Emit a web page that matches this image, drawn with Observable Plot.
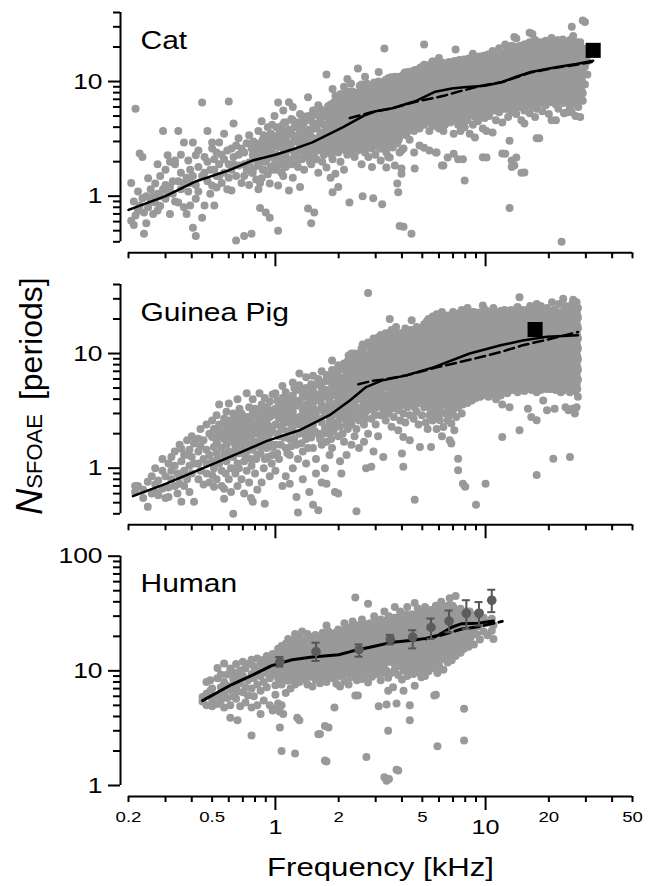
<!DOCTYPE html>
<html><head><meta charset="utf-8">
<script src="https://cdn.jsdelivr.net/npm/d3@7"></script>
<script src="https://cdn.jsdelivr.net/npm/@observablehq/plot@0.6"></script>
<style>
body{margin:0;background:#fff;}
#wrap{position:relative;width:650px;height:886px;overflow:hidden;font-family:"Liberation Sans",Arial,Helvetica,sans-serif;}
#wrap svg{position:absolute;left:0;}
</style></head><body><div id="wrap">
<svg id="ylab" width="70" height="886" style="top:0">
 <text transform="translate(42,396) rotate(-90)" text-anchor="middle" font-family="Liberation Sans, Arial, sans-serif" fill="black"><tspan font-style="italic" font-size="36">N</tspan><tspan font-size="22">SFOAE</tspan><tspan font-size="32" dx="14">[periods]</tspan></text>
</svg>
</div>
<script>
// ---------- tick values ----------
const xMinorTicks = [0.3,0.4,0.6,0.7,0.8,0.9,3,4,6,7,8,9,30,40];
const xSmallTicks = [0.2,0.5,2,5,20,50];
const xMajorTicks = [1,10];
const yMinorCatGp = [0.4,0.5,0.6,0.7,0.8,0.9,2,3,4,5,6,7,8,9,20,30,40];
const yMajorCatGp = [1,10];
const yMinorHuman = [2,3,4,5,6,7,8,9,20,30,40,50,60,70,80,90];
const yMajorHuman = [1,10,100];

// ---------- Cat: columns [f (kHz), N values...] ----------
const catCols = [
[0.206,1.3,0.61],[0.212,0.56,0.9],[0.216,5.8,0.68],[0.222,0.75,1.1],[0.226,2.36,0.83],[0.233,2.2,0.96],
[0.237,0.47,0.72],[0.243,0.58,1.0],[0.248,1.43,0.8],[0.255,0.9,1.15],[0.262,1.0,0.7],[0.268,1.29,0.88],
[0.275,0.75,1.05,1.9],[0.283,1.0,0.82,1.5],[0.292,3.7,1.15],[0.3,0.95,1.25,1.7],[0.307,2.27,1.05],
[0.315,1.2,0.7,2.0],[0.325,1.05,1.35],[0.333,1.9,2.05,0.9],[0.345,3.7,1.35,0.88],[0.355,1.6,1.15,2.3],
[0.367,2.94,0.8,1.3],[0.378,0.7,1.45],[0.385,2.05,1.1],[0.393,0.83,1.7,1.3],[0.405,2.94,0.53,1.5],
[0.418,2.27,0.95,0.45,1.25],[0.43,1.8,1.1,2.5],[0.448,6.55,0.65,1.5],[0.46,0.83,1.6,2.2],[0.475,3.7,2.0,1.35],
[0.49,1.05,1.7],[0.5,2.94,1.24,2.6],[0.512,0.83,1.7,2.1],[0.525,2.4,1.19,1.5],[0.54,2.94,1.5,1.9],
[0.555,1.3,2.3],[0.57,3.5,2.1,1.6],[0.59,1.15,2.5],[0.6,6.7,1.45,1.9],[0.618,1.12,2.6,1.7],
[0.632,4.3,1.9,2.2],[0.65,2.77,0.41,1.5],[0.668,1.85,3.2,2.3],[0.69,1.3,2.6],[0.71,2.4,0.45,1.5,1.9],
[0.73,2.9,1.7],[0.75,1.97,3.4,1.25],[0.77,0.47,2.6,1.6],[0.785,1.74,2.2,3.0],[0.81,1.4,2.5],
[0.83,1.85,3.7,2.2,1.15],[0.845,0.79,1.3,2.9],[0.86,1.43,4.5,2.8,2.0],[0.88,1.7,3.4],[0.9,0.72,2.0,3.3,2.5],
[0.92,1.55,2.8,4.0],[0.94,0.65,1.29,3.0,2.2],[0.965,2.3,4.2,1.7,3.4],[0.99,1.9,2.7,5.0],
[1.03,0.5,1.24,2.7,6.55,3.4,1.9],[1.07,2.2,3.0,4.1,1.6],[1.09,5.6,3.5,2.0,1.5,2.6],[1.12,4.4,1.8,3.2,2.4],
[1.16,6.6,1.12,2.9,3.8,2.1],[1.21,6.0,1.45,2.5,3.4,4.6],[1.26,1.9,3.0,4.0,2.3],[1.31,1.2,2.7,3.6,5.2,2.1],
[1.37,2.4,3.1,4.4,1.7],[1.43,7.3,0.78,2.9,3.8,2.2,5.0],[1.48,0.58,3.3,2.5,4.6,1.9],[1.53,0.72,2.8,3.9,5.6,2.2],
[1.6,3.1,4.3,2.5,6.2,1.6],[1.67,2.7,3.6,4.9,2.0],[1.75,11.5,1.78,3.0,4.0,5.4,2.4],[1.83,1.45,3.4,4.5,6.3,2.6],
[1.87,1.08,8.6,3.0,5.0,2.1],[1.93,1.57,3.7,4.6,6.0,2.8,7.5],[1.99,1.2,2.4,3.2,4.2,5.3],
[2.04,2.6,3.3,4.1,5.0,6.2,7.8,2.0],[2.12,2.9,3.7,4.6,5.6,7.0,9.0,1.7],[2.2,2.3,3.1,3.9,4.8,6.0,7.5,10.5],
[2.25,0.88,2.7,4.3,5.3,8.2],[2.29,3.4,4.0,5.1,6.5,2.5,9.6],[2.38,2.8,3.6,4.5,5.7,7.1,2.2],
[2.47,13.0,3.2,4.2,5.2,6.4,8.0,2.5],[2.57,2.7,3.5,4.6,5.9,7.4,9.4,1.9],[2.6,1.0,3.0,4.0,5.4,6.8],
[2.67,2.4,3.3,4.3,5.6,7.0,8.6,11.0],[2.77,2.9,3.8,4.9,6.1,7.7,2.2],[2.88,2.6,3.4,4.5,5.8,7.2,9.0,1.8],
[2.92,0.96,3.1,4.1,5.3,6.6,8.3],[2.99,2.3,3.6,4.8,6.0,7.6,2.9],[3.1,12.1,2.8,3.9,5.1,6.4,8.0,10.0],
[3.17,2.05,3.3,4.4,5.6,7.0,2.6],[3.22,0.85,3.0,4.0,5.2,6.6,8.5],[3.3,19.4,2.7,3.7,4.7,6.0,7.5,9.4],
[3.37,1.78,2.4,3.4,4.5,5.7,7.1],[3.44,10.7,3.1,4.1,5.3,6.7,8.4,2.2],[3.5,2.17,2.9,3.8,4.9,6.2,7.8],
[3.62,2.66,3.5,4.6,5.8,7.3,9.1],[3.7,1.85,3.2,4.3,5.5,6.9,8.7,11.0],[3.8,1.29,2.9,4.0,5.1,6.5,8.2],
[3.84,1.08,3.6,4.7,6.0,7.6,9.6],[3.9,0.55,3.3,4.4,5.6,7.1,2.4],[3.98,1.57,1.74,2.5,3.9,5.2,6.6,8.4,10.4],
[4.07,0.54,2.6,3.8,4.9,6.0,7.4,9.2,11.5],[4.2,3.4,4.4,5.5,6.8,8.4,10.4],[4.28,12.1,4.0,5.1,6.3,7.8,9.6],
[4.35,3.1,4.7,5.9,7.2,8.9,11],[4.44,0.47,4.2,5.3,6.6,8.1,10],[4.57,2.4,3.7,4.9,6.1,7.5,9.3,12.5],
[4.6,1.74],[4.7,4.4,5.6,6.9,8.6,10.6],[4.85,2.77,3.9,5.1,6.4,7.9,9.8,13],[5.0,4.6,5.8,7.2,8.9,11.2],
[5.1,21,2.65,4.2,5.3,6.6,8.2,10.2,14],[5.25,4.8,6.0,7.5,9.4,11.8],[5.4,2.5,3.7,4.4,5.6,7.0,8.7,10.8],
[5.6,4.1,5.2,6.4,8.0,10,12.5,15],[5.8,2.4,4.7,5.9,7.3,9.1,11.4],[5.85,2.4],[6.0,3.9,5.0,6.2,7.8,9.7,12,16],
[6.2,1.85,4.5,5.6,7.0,8.7,10.9],[6.3,1.85,3.7],[6.4,4.2,5.3,6.6,8.3,10.3,13],[6.6,2.17,4.8,6.0,7.5,9.4,11.7,14.5],
[6.8,4.4,5.5,6.9,8.6,10.8],[7.05,2.35,3.5,5.0,6.3,7.9,9.9,12.4],[7.2,4.6,5.8,7.2,9.0,11.2,19],
[7.4,2.1,4.2,5.3,6.6,8.3,10.4,13.5],[7.6,3.7,4.9,6.1,7.6,9.5,11.9],[7.8,2.1,4.4,5.6,7.0,8.7,10.9,15],
[7.95,1.37,4.0,5.1,6.4,8.0,10],[8.2,4.6,5.8,7.3,9.1,11.4,14],[8.4,3.5,5.3,6.7,8.4,10.5,13],
[8.7,17.5,4.2,6.1,7.7,9.6,12],[8.9,3.25,4.9,5.6,7.0,8.8,11,14],[9.2,4.5,6.4,8.1,10.2,12.7],
[9.5,5.2,5.9,7.4,9.3,11.6,15],[9.7,2.19,3.9,6.8,8.5,10.6,13.3],[9.9,4.8,6.2,7.8,9.8,12.2,16],
[10.1,3.7,2.17,5.5,7.1,8.9,11.1,14],[10.4,5.0,6.5,8.2,10.3,12.9,16.2],[10.8,3.6,5.8,7.4,9.3,11.7,14.7,18.5],
[11.2,4.6,6.8,8.6,10.8,13.6,17],[11.6,5.4,6.2,7.8,9.8,12.3,15.5,19.5],[12.0,2.36,4.4,7.2,9.1,11.4,14.3,18],
[12.4,2.35,5.8,6.6,8.3,10.4,13.1,16.5,21],[12.8,4.9,7.6,9.6,12,15.1,19],[13.0,3.05,0.79,6.1,8.8,11.1,14,17.6],
[13.3,2.05,1.8,5.4,7.2,10.2,12.8,16.2,20.5],[13.7,24.5,1.85,6.5,8.1,9.4,11.8,14.8,18.6],
[14.0,2.17,5.2,7.0,8.7,10.9,13.7,17.2,23.7],[14.5,6.0,7.6,9.9,12.5,15.7,19.8],[14.8,1.6,4.6,6.8,9.1,11.5,14.5,18.2],
[15.3,4.3,1.61,5.6,8.3,10.5,13.2,16.6,21],[15.8,6.3,7.5,9.6,12.1,15.2,19.2],[16.2,26.7,5.3,6.9,8.8,11.1,14,17.6,22],
[16.7,26,6.0,8.1,10.2,12.8,16.1,20.3],[17.2,4.9,7.4,9.3,11.7,14.8,18.6,23],[17.5,3.2,5.8],
[18.0,3.2,6.6,8.5,10.7,13.5,17,21.5],[18.6,5.5,7.8,9.8,12.4,15.6,19.7],[19.3,6.2,7.1,9.0,11.3,14.3,18,22.7],
[20.0,5.2,8.2,10.4,13.1,16.5,20.8],[20.6,4.6,6.8,7.5,9.5,12,15.1,19,24],[21.6,4.6,6.3,8.7,11,13.9,17.5,22],
[22.2,22.8,5.8,8.0,10.1,12.7,16,20.2],[23,0.4,7.1,9.2,11.6,14.7,18.5],[23.6,5.3,6.5,8.4,10.6,13.4,16.9,21.3],
[24.4,5.4,7.7,9.7,12.3,15.5,19.5],[25.2,6.0,7.0,8.9,11.2,14.2,17.9,23],[25.7,30,5.4,8.1],
[26.1,25,6.4,10.3,13,16.4,20.6],[26.8,5.0,7.4,9.4,11.9,15,19],[27.6,13,9.2,7.9,6.0,11,17],
[28.2,4.9,6.8,8.6,10.8,14.5,22],[29.0,34,6.8,7.9,12,16,19.5],[29.7,33,9.4,13.5,17.5],[30.5,11.5,15,18]
];
// denser core of the cat cloud (0.8–30 kHz)
const catCore = [
[0.78,1.6,2.3],[0.82,2.0,2.7],[0.87,1.7,2.4,3.1],[0.91,2.1,2.9],[0.95,1.8,2.5,3.5],[0.98,2.2,3.0],
[1.01,1.7,2.3,3.1,4.0],[1.05,2.0,2.7,3.6],[1.1,1.8,2.4,3.3,4.4],[1.14,2.1,2.8,3.7],[1.19,1.9,2.6,3.5,4.7],
[1.23,2.2,3.0,4.0],[1.28,1.8,2.5,3.3,4.4],[1.34,2.1,2.9,3.9,5.0],[1.4,2.6,3.5,4.6],[1.46,2.0,2.8,3.7,4.9],
[1.51,2.4,3.2,4.3,5.6],[1.57,2.1,2.9,3.9,5.1],[1.63,2.6,3.4,4.5,5.8],[1.7,2.3,3.1,4.2,5.5],[1.78,2.7,3.6,4.8,6.1],
[1.85,2.3,3.2,4.3,5.7],[1.9,2.8,3.8,5.1,6.6],[1.96,2.5,3.4,4.6,6.0,7.0],[2.0,2.9,3.9,5.3,6.7],
[2.08,2.9,3.7,4.6,5.6,6.8],[2.16,2.5,3.3,4.2,5.2,6.4,8.0],[2.24,3.0,3.8,4.7,5.9,7.3],[2.33,2.6,3.2,4.2,5.3,6.6,8.2],
[2.42,3.0,3.9,4.9,6.2,7.8],[2.52,2.8,3.7,4.7,5.9,7.3,9.2],[2.62,3.2,4.2,5.3,6.6,8.2],[2.72,2.7,3.6,4.7,6.0,7.5,9.6],
[2.82,3.2,4.2,5.4,6.8,8.5],[2.95,2.8,3.7,4.9,6.2,7.8,9.8],[3.05,3.2,4.3,5.5,6.9,8.8],[3.14,2.6,3.6,4.8,6.1,7.7,9.6],
[3.26,3.4,4.4,5.6,7.1,9.0],[3.34,3.0,4.0,5.2,6.5,8.2,10.3],[3.41,2.7,3.6,4.8,6.1,7.7,9.8],[3.55,3.2,4.2,5.4,6.8,8.6,10.9],
[3.66,2.9,3.8,5.0,6.3,8.0,10.1],[3.75,3.5,4.6,5.9,7.5,9.5],[3.86,3.1,4.1,5.3,6.8,8.6,11],[3.94,3.7,4.8,6.2,7.9,10],
[4.02,4.1,5.4,6.7,8.4,10.5],[4.13,3.6,4.8,6.1,7.6,9.5,12],[4.24,4.3,5.5,7.0,8.8,11.1],[4.4,3.8,4.9,6.2,7.7,9.6,12.2],
[4.52,4.5,5.7,7.1,8.9,11.1],[4.64,4.0,5.1,6.4,8.0,10.0,12.6],[4.78,4.6,5.8,7.3,9.1,11.5],[4.92,4.2,5.4,6.8,8.5,10.7,13.3],
[5.05,4.8,6.1,7.7,9.6,12.1],[5.18,4.4,5.6,7.0,8.8,11.1,13.8],[5.32,4.9,6.3,7.9,9.9,12.4],[5.5,4.5,5.8,7.3,9.1,11.4,14.3],
[5.7,5.0,6.4,8.0,10.1,12.6],[5.9,4.5,5.8,7.3,9.2,11.5,14.4],[6.1,5.1,6.5,8.2,10.3,12.9],[6.25,4.6,5.9,7.4,9.3,11.7,14.6],
[6.5,5.2,6.6,8.3,10.4,13],[6.7,4.7,6.0,7.5,9.4,11.8,14.8],[6.92,5.3,6.7,8.4,10.5,13.2],[7.12,4.8,6.1,7.7,9.6,12.1,15.1],
[7.3,5.4,6.8,8.5,10.7,13.4],[7.5,4.9,6.2,7.8,9.8,12.3,15.4],[7.7,5.5,6.9,8.7,10.9,13.6],[7.88,5.0,6.3,7.9,9.9,12.5,15.6],
[8.05,5.6,7.1,8.9,11.1,13.9],[8.3,5.1,6.4,8.0,10.1,12.7,15.9],[8.55,5.6,7.1,8.9,11.2,14.1],[8.8,5.2,6.5,8.2,10.3,12.9,16.2],
[9.05,5.7,7.2,9.1,11.4,14.3],[9.35,5.3,6.7,8.4,10.5,13.2,16.5],[9.6,5.8,7.3,9.2,11.5,14.5],[9.8,5.4,6.8,8.5,10.7,13.4,16.8],
[10.0,6.0,7.5,9.4,11.8,14.8],[10.25,5.5,6.9,8.7,10.9,13.7,17.2],[10.6,6.1,7.7,9.6,12.1,15.2],[11.0,5.6,7.0,8.8,11.1,13.9,17.5],
[11.4,6.2,7.8,9.8,12.3,15.4],[11.8,5.7,7.2,9.0,11.3,14.2,17.8],[12.2,6.3,7.9,9.9,12.5,15.7],[12.6,5.8,7.3,9.2,11.5,14.5,18.2],
[13.1,6.4,8.1,10.1,12.7,16],[13.5,5.9,7.4,9.3,11.7,14.7,18.5],[13.9,6.5,8.2,10.3,12.9,16.2,20],[14.3,6.0,7.6,9.5,11.9,15,18.8],
[14.7,6.6,8.3,10.5,13.1,16.5,20.5],[15.1,6.1,7.7,9.6,12.1,15.2,19.1],[15.5,6.7,8.5,10.6,13.3,16.8,21],[16.0,6.2,7.8,9.8,12.3,15.5,19.4],
[16.5,6.8,8.6,10.8,13.6,17.1,21.3],[16.9,6.3,7.9,10.0,12.5,15.7,19.8],[17.4,6.9,8.7,10.9,13.8,17.3,21.7],[17.9,6.4,8.1,10.1,12.7,16,20.1],
[18.3,7.0,8.8,11.1,14,17.6,22],[18.9,6.5,8.2,10.3,12.9,16.2,20.4],[19.6,7.1,8.9,11.2,14.1,17.8,22.3],[20.3,6.6,8.3,10.4,13.1,16.5,20.7],
[20.9,7.2,9.0,11.4,14.3,18,22.6],[21.3,6.7,8.4,10.6,13.3,16.7,21],[22.0,7.3,9.2,11.5,14.5,18.2,22.9],[22.6,6.8,8.5,10.7,13.4,16.9,21.2],
[23.3,7.4,9.3,11.7,14.7,18.5,23.2],[24.0,6.9,8.6,10.8,13.6,17.1,21.5],[24.8,7.5,9.4,11.8,14.8,18.6],[25.5,7.0,8.7,11.0,13.8,17.3,21.7],
[26.4,7.6,9.5,12.0,15,18.9],[27.2,7.1,8.9,11.1,14,17.6,22],[28.0,7.7,9.7,12.2,15.3,19.2],[28.7,8.2,10.3,12.9,16.2]
];
const catSolid = [[0.2,0.76],[0.3,1.0],[0.42,1.35],[0.6,1.68],[0.78,2.05],[1.0,2.3],[1.2,2.55],[1.5,2.95],[2.1,4.0],[2.64,5.05],[3.0,5.5],[3.6,5.85],[4.7,6.8],[5.7,8.1],[6.9,8.7],[7.9,8.9],[9.9,9.2],[11.9,9.85],[14,11],[16.4,12.1],[21.6,13.3],[27,14.2],[32.5,15.2]];
const catDashed = [[2.26,4.8],[2.86,5.4],[3.6,5.85],[4.7,6.7],[5.7,7.2],[6.4,7.55],[7.5,8.2],[9.6,9.2],[12,9.9],[16.4,12],[21.6,13.2],[27,14],[32,14.8]];
const catSquare = [32.5, 18.7];

// ---------- Guinea pig ----------
const gpCols = [
[0.215,0.7,0.62],[0.222,0.7],[0.235,0.55,0.65],[0.247,0.46,0.76],[0.258,0.6,0.85],[0.268,0.72,0.62,1.0],
[0.277,0.78,0.58],[0.29,0.66,0.95,1.2],[0.3,0.85,0.55],[0.31,0.56,0.68,1.1],[0.32,1.25,0.8,0.95],
[0.332,0.7,1.05,1.4],[0.342,0.9,0.6],[0.35,0.73,0.85,1.6],[0.357,1.48,0.51,1.15],[0.368,0.95,1.3,0.7],
[0.38,1.31,1.75,0.8],[0.39,1.05,0.62,1.45],[0.4,0.9,1.9,1.25],[0.41,1.64,0.51,1.1],[0.43,1.81,1.1,0.8,1.4],
[0.44,0.95,1.55,2.2],[0.455,1.2,0.72,1.75],[0.47,1.45,2.4,0.9,1.1],[0.485,1.3,2.0,0.75],[0.5,1.87,0.87,1.15,2.6],
[0.51,1.53,0.69,1.0,2.2],[0.525,1.35,2.9,0.8,1.7],[0.54,1.1,1.9,2.4,3.6],[0.555,0.95,1.5,2.1,0.7],
[0.57,0.66,0.54,1.3,1.8,2.7],[0.585,1.15,1.6,2.2,3.1],[0.6,3.66,0.8,1.4,2.0,2.6],[0.615,1.0,1.7,2.3,0.62],
[0.63,0.4,2.45,1.25,1.9,3.0],[0.645,0.9,1.5,2.1,2.8],[0.66,4.0,1.1,1.7,2.4,0.7],[0.675,1.35,1.9,2.7,3.3],
[0.69,0.8,1.55,2.2,3.0],[0.71,1.15,1.75,2.5,0.6],[0.73,4.5,1.4,2.0,2.8,0.95],[0.75,0.75,1.6,2.3,3.4],
[0.765,1.2,1.85,2.6,0.55],[0.78,0.51,1.45,2.1,3.0,4.0],[0.8,0.9,1.7,2.4,3.3],[0.82,1.3,2.0,2.8,0.65],
[0.84,1.55,2.3,3.2,4.5],[0.86,0.75,1.9,2.6,3.6],[0.89,0.49,1.2,2.2,3.0,4.1],[0.91,1.5,1.75,2.5,3.4],
[0.94,0.85,2.0,2.8,3.8],[0.97,1.53,1.3,2.3,3.2,4.4],
[1.0,1.6,2.4,3.3,4.5,0.95],[1.04,1.9,2.7,3.7,1.2],[1.08,0.7,2.2,3.0,4.1,5.2],[1.12,1.5,2.5,3.4,4.6,0.85],
[1.17,0.73,1.8,2.8,3.8,1.3],[1.21,2.1,3.1,4.3,5.6,1.0],[1.26,0.56,1.6,2.4,3.5,4.8],[1.28,0.41,1.2],
[1.3,6.7,2.0,2.8,3.9,5.3],[1.35,1.4,2.3,3.2,4.4,0.8],[1.4,1.1,1.8,2.6,3.6,5.0,6.2],[1.45,2.1,3.0,4.1,0.62],
[1.51,0.48,1.5,2.4,3.4,4.7,6.4],[1.56,1.2,2.8,3.9,5.4,0.9],[1.6,0.43,2.0,3.2,4.4,6.0],[1.66,1.6,2.5,3.6,5.0,7.0,0.75],
[1.72,1.0,2.2,3.0,4.2,5.7],[1.75,0.73,1.7,3.4,4.8,6.5],[1.81,5.8,2.6,3.8,1.3,2.0],[1.86,8.7,1.5,3.1,4.3,5.2,7.2],
[1.92,0.62,2.4,3.5,4.9,6.6],[1.99,0.6,1.9,2.9,4.1,5.8,7.9],[2.03,1.15,2.3,3.3,4.6,6.2],[2.06,0.9,2.7,3.8,5.3,7.3],
[2.12,1.7,3.1,4.3,6.0,8.2],[2.18,2.4,3.6,5.0,6.8,1.3],[2.23,2.9,4.0,5.6,7.7,9.6],
[2.3,10,3.2,4.4,6.0,8.1,2.4,1.6],[2.38,10,3.6,4.9,6.7,2.8,1.9],[2.43,0.42,4.1,5.5,7.4,9.5,2.2],[2.5,3.0,4.5,6.1,8.3,1.5,2.6],
[2.57,3.4,5.0,6.8,9.2,11],[2.64,1.7,2.4,3.8,5.5,7.5,10.2],[2.7,1.0,3.1,4.3,6.1,8.3,11.8],[2.76,33.8,2.0,3.5,4.8,6.7,9.1,12.5],
[2.86,1.03,2.7,3.9,5.4,7.4,10.1],[2.93,1.4,3.2,4.4,6.0,8.2,11.2,13.5],[3.0,2.4,3.6,4.9,6.6,9.0,12.4],
[3.08,1.9,4.0,5.4,7.3,10,13.8],[3.17,2.9,4.5,6.0,8.1,11,14.5],[3.26,1.25,3.3,5.0,6.6,8.9,12.2],
[3.35,2.6,3.8,5.5,7.3,9.8,15],[3.44,3.0,4.3,6.1,8.1,10.9,13.5],[3.5,20,3.5,4.8,6.7,8.9,12],
[3.57,2.3,3.3,5.3,7.4,9.8,16],[3.66,2.8,4.0,5.9,8.1,10.8,14],[3.75,3.6,4.6,6.5,8.9,11.9,17],
[3.84,2.14,3.2,5.1,7.2,9.8,13.2],[3.93,2.6,4.2,5.7,7.9,10.8,15],[4.0,1.34,3.6,4.8,6.3,8.7,12],
[4.06,1.03,1.87,3.0,5.3,7.0,9.6,13.5],[4.15,2.5,4.0,5.9,7.7,10.6,16.5],[4.25,3.4,4.6,6.5,8.5,11.7,14],
[4.36,1.75,2.9,5.2,7.2,9.4,12.9],[4.45,3.8,4.4,5.8,7.9,10.4,15.5,19.5],[4.55,2.7,4.9,6.4,8.7,11.5,14.2],
[4.6,0.53,3.4],[4.7,3.1,4.2,5.5,7.1,9.6,12.7,17],[4.8,2.4,3.7,6.0,7.8,10.5,14],[4.87,1.53,4.6,5.1,6.6,8.6,11.6,16],
[4.98,2.9,3.9,5.6,7.3,9.5,12.8],[5.1,3.4,4.3,6.2,8.1,10.5,14.1,18],[5.2,2.5,4.8,6.8,8.9,11.6,15.6],
[5.3,2.2,3.5,5.3,7.5,9.8,12.8,17],[5.4,2.9,4.1,5.9,8.3,10.8,14.2,19],[5.5,1.53,3.2,4.6,6.5,9.1,11.9,15.7],
[5.6,2.6,3.7,5.2,7.2,10,13.1,17.3,21],[5.73,3.0,4.1,5.8,7.9,11,14.5,19],[5.85,2.2,3.4,4.6,6.4,8.7,12.1,16,22],
[5.97,2.8,3.8,5.1,7.0,9.6,13.3,17.6],[6.06,2.62,3.2,4.3,5.7,7.7,10.6,14.6,20],[6.2,1.9,3.6,4.8,6.3,8.5,11.7,16,23],
[6.3,2.29,4.1,5.4,7.0,9.4,12.9,17.6],[6.45,3.0,3.8,4.6,6.0,7.7,10.4,14.2,19.5],[6.6,2.6,3.4,5.1,6.6,8.5,11.4,15.6,21.5],
[6.75,1.75,2.9,4.2,5.6,7.3,9.4,12.6,17.2],[6.87,2.45,1.64,3.7,4.8,6.2,8.0,10.4,13.9,19],[7.0,3.2,4.3,5.3,6.8,8.8,11.5,15.3,23],
[7.1,2.14,3.6,4.7,5.9,7.5,9.7,12.7,16.9],[7.25,2.8,4.0,5.2,6.5,8.3,10.7,14,18.6],
[7.4,1.21,0.96,3.4,4.5,5.7,7.2,9.2,11.8,15.5,20.5],[7.55,3.9,5.0,6.3,7.9,10.1,13,17.1],
[7.7,3.0,4.3,5.5,6.9,8.7,11.1,14.3,18.8,24],[7.8,0.73,3.6,4.8],[7.9,3.9,6.0,7.6,9.6,12.2,15.8,20.7],
[8.0,0.69,4.5,5.3,6.7,8.4,10.6,13.4,17.4],[8.2,3.7,4.9,5.9,7.4,9.2,11.7,14.8,19.2,25],[8.4,4.3,5.4,6.5,8.1,10.1,12.9,16.3,21],
[8.6,3.9,4.8,6.0,7.1,8.9,11.1,14.2,18],[8.8,4.5,5.3,6.6,7.8,9.8,12.2,15.6,19.8,23],[9.0,0.48,4.1,5.0,6.0,7.3,8.6,10.8,13.4,17.2],
[9.2,4.7,5.6,6.6,8.0,9.5,11.9,14.7,18.9,22],[9.45,4.2,5.2,6.2,7.3,8.8,10.4,13.1,16.2,20.8],
[9.7,26.3,4.8,5.8,6.8,8.0,9.7,11.5,14.4,17.8],[10.0,0.73,4.4,5.4,6.4,7.5,8.8,10.7,12.7,15.8,19.6,24],
[10.3,4.2,5.5,6.8,8.4,10.3,12.6,15.5,19.0,23],[10.6,4.9,6.1,7.5,9.2,11.3,13.9,17.1,21],[10.9,4.5,5.7,7.0,8.6,10.6,13.0,16.0,19.6,25],
[11.2,4.0,5.2,6.4,7.9,9.7,11.9,14.6,18,22],[11.5,4.7,5.9,7.3,9.0,11.0,13.6,16.7,20.5],[11.8,4.3,5.4,6.7,8.3,10.2,12.5,15.3,18.8,23.5],
[12.0,1.87,3.6,6.1,7.7,9.5,11.6,14.3,17.6],[12.3,4.9,5.5,6.9,8.5,10.5,12.9,15.9,19.5,24],[12.7,4.5,5.9,7.3,9.0,11.1,13.6,16.8,20.7],
[13.0,3.4,5.2,6.4,7.9,9.8,12.1,14.8,18.2,22.5],[13.4,4.8,6.0,7.5,9.3,11.4,14.0,17.3,21.2],[13.8,5.3,6.6,8.2,10.1,12.5,15.4,19,23],
[14.2,4.6,5.8,7.2,8.9,11.0,13.5,16.6,20.5,25.5],[14.5,2.14,31,5.1,6.3,7.8,9.6,11.8,14.5,17.9,22],[14.9,5.5,6.8,8.4,10.4,12.8,15.8,19.5,24],
[15.3,4.7,5.9,7.3,9.0,11.1,13.7,16.9,20.8],[15.9,3.3,5.3,6.5,8.0,9.9,12.2,15.0,18.5,22.8],[16.3,4.9,6.1,7.6,9.4,11.6,14.3,17.6,21.7,26],
[16.5,2.8],[16.8,5.6,6.9,8.5,10.5,12.9,15.9,19.6,24],[17.2,5.0,6.3,7.8,9.6,11.8,14.6,18,22.2],[17.5,0.87,2.62,4.6,27],
[17.8,5.4,6.7,8.3,10.2,12.6,15.5,19.1,23.5],[18.3,4.8,6.0,7.4,9.2,11.3,13.9,17.2,21.1,26],[18.8,3.9,5.5,6.8,8.4,10.4,12.8,15.8,19.4,24],
[19.3,5.1,6.3,7.8,9.6,11.8,14.6,18,22.2],[19.6,3.2,5.7,7.1,8.8,10.8,13.3,16.4,20.2,25],[20.2,4.9,6.1,7.5,9.3,11.5,14.1,17.4,21.4],
[20.7,5.4,6.6,8.2,10.1,12.4,15.3,18.9,23.3,28],[21.0,1.21,5.0,6.0,7.4,9.1,11.2,13.8,17,21],[21.3,3.3,5.5,6.8,8.4,10.4,12.8,15.8,19.5,24],
[21.8,4.9,6.2,7.7,9.5,11.7,14.4,17.8,22],[22.3,5.3,6.5,8.0,9.9,12.2,15.0,18.5,22.8,27],[22.8,4.6,5.9,7.3,9.0,11.1,13.7,16.9,20.8],
[23.4,4.77,30,5.4,6.7,8.3,10.2,12.6,15.5,19.1,23.5],[24.0,3.4,5.0,6.1,7.5,9.3,11.5,14.1,17.4,21.5,26],[24.8,3.2,5.6,6.9,8.5,10.5,12.9,15.9,19.6,24],
[25.2,1.25,4.6,6.3,7.8,9.6,11.8,14.6,18,22],[25.8,3.3,5.2,6.5,8.0,9.8,12.1,14.9,18.4,22.7,27],[26.1,29.5,5.7,7.0,8.6,10.6,13.1,16.1,19.8,24.5],
[26.6,3.0,4.7,6.0,7.4,9.1,11.2,13.8,17,21],[27.1,3.4,5.4,6.6,8.2,10.1,12.4,15.3,18.9,23.3,28],[27.5,4.2,5.9,7.2,8.9,11,13.5,16.6,20.5,25]
];
// denser core of the guinea-pig cloud
const gpCore = [
[0.53,1.2,1.6,2.1],[0.58,0.9,1.25,1.9,2.45],[0.62,1.35,1.75,2.6],[0.67,1.0,1.45,2.0,3.0],[0.72,1.3,1.65,2.3],
[0.77,1.05,1.5,2.0,2.75],[0.81,1.2,1.6,2.2,3.1],[0.85,1.35,1.75,2.45],[0.88,1.0,1.55,2.05,2.8],[0.92,1.25,1.8,2.3,3.1],
[0.96,1.1,1.6,2.15,2.9],
[1.02,1.35,2.0,2.9,3.9],[1.06,1.6,2.3,3.3],[1.1,1.85,2.6,3.7],[1.14,1.35,2.1,3.0,4.1],[1.19,1.55,2.4,3.4],
[1.23,1.8,2.7,3.8,5.0],[1.33,1.65,2.5,3.6,4.8],[1.38,2.0,2.9,4.2],[1.43,1.5,2.4,3.3,4.6],[1.48,1.85,2.7,3.8,5.4],
[1.54,2.1,3.1,4.2],[1.63,1.8,2.7,3.9,5.3],[1.69,2.0,3.3,4.5],[1.78,2.3,3.1,4.4,5.9],[1.84,1.8,2.8,3.6,4.8,6.2],
[1.89,2.1,3.2,4.5,5.7],[1.96,2.5,3.7,5.2,6.9],[2.09,2.0,3.0,4.2,5.8,7.8],[2.15,2.8,3.9,5.4,7.2],[2.21,2.2,3.3,4.7,6.4,8.6],
[2.27,2.6,3.8,5.2,7.0],
[2.34,2.7,3.8,5.2,7.1,9.3],[2.46,3.3,4.8,6.5,8.8],[2.54,2.8,4.0,5.6,7.5,10.2],[2.6,3.2,4.6,6.3,8.7,12],[2.67,2.7,3.6,5.2,7.0,9.6],
[2.8,3.3,4.4,6.1,8.5,11.5],[2.9,3.8,5.2,7.1,9.8],[2.97,2.9,4.2,5.8,8.0,10.9],[3.04,3.4,4.6,6.3,8.6,11.8],[3.13,3.6,5.0,6.9,9.5,13],
[3.22,3.9,5.5,7.6,10.4],[3.3,3.0,4.3,6.0,8.2,11.3,14],[3.4,3.5,5.1,7.0,9.4,12.6],[3.53,4.0,5.8,8.0,10.8,14.5],[3.62,3.6,5.0,7.0,9.2,12.4],
[3.71,4.2,6.1,8.3,11.2,15],[3.8,3.8,5.4,7.6,10.3,13.8],[3.89,3.4,4.8,6.6,9.1,12.2],[3.97,4.4,6.0,8.2,11.2,14.5],[4.1,3.6,5.4,7.3,9.9,13.4],
[4.2,4.2,5.9,8.0,10.9,15],[4.31,3.8,5.6,7.6,10.2,13.8],[4.4,4.5,6.2,8.4,11.3,16],[4.5,3.6,5.3,7.3,9.9,13.3],[4.63,4.0,5.9,8.0,10.9,14.8],
[4.75,4.8,6.4,8.8,11.9,16],[4.92,4.2,6.2,8.2,11.1,15],[5.04,3.7,5.2,7.1,9.7,13.4,17],[5.15,4.5,6.3,8.6,11.8,16.4],[5.25,3.9,5.7,7.8,10.7,14.5,19],
[5.35,4.5,6.3,8.7,11.4,15,20],[5.45,3.8,5.5,7.7,10.4,13.6,18],[5.55,4.3,6.0,8.4,11.3,14.8,19.8],[5.67,4.8,6.6,9.3,12.2,16.2],
[5.79,3.9,5.3,7.3,10.1,13.2,17.6],[5.91,4.2,5.9,8.2,11.3,15,20],[6.01,4.6,6.4,9.0,12.3,16.3],[6.13,4.1,5.5,7.7,10.6,14.2,19],
[6.25,4.5,6.0,8.3,11.3,15.3,20.5],[6.38,5.0,6.6,9.0,12.2,16.6],[6.52,4.2,5.5,7.4,10.1,13.5,18],[6.68,4.7,6.3,8.4,11.4,15.4,20.8],
[6.8,4.1,5.2,7.0,9.7,13.3,18.2],[6.93,4.5,6.0,8.2,11.1,14.8,19.9],[7.05,4.8,6.3,8.3,10.8,14.6,19.5],[7.18,4.3,5.6,7.4,9.9,13.5,18],
[7.32,4.9,6.4,8.6,11.1,14.7,19.6],[7.47,4.5,5.8,7.6,10.0,13.4,17.9,22.5],[7.62,5.0,6.4,8.4,11.1,14.8,19.5],[7.75,4.6,5.9,7.8,10.3,13.5,17.8,22.8],
[7.96,5.1,6.6,8.6,11.3,15,19.6],[8.1,4.6,5.6,7.4,9.8,12.9,17,22],[8.3,5.3,6.9,9.0,11.9,15.5,20.2],[8.5,4.8,6.2,8.1,10.7,14.1,18.4,23],
[8.7,5.1,6.6,8.5,11.3,14.8,19.4],[8.9,4.6,6.1,7.9,10.3,13.6,17.8,22.5],[9.1,5.1,6.8,8.7,11.3,14.8,19.6],[9.32,4.5,6.0,7.7,10.1,13.3,17.5,22.8],
[9.58,5.2,6.7,8.6,11.1,14.6,19.2],[9.85,4.6,6.1,7.9,10.4,13.7,17.9,23],
[10.15,4.8,6.1,7.6,9.3,11.5,14.1,17.4,21.3],[10.45,4.4,5.5,6.9,8.5,10.4,12.9,15.9,19.6],[10.75,5.1,6.4,7.9,9.7,11.9,14.7,18.1,22.5],
[11.05,4.7,5.9,7.3,9.0,11.1,13.7,16.9,20.7],[11.35,5.3,6.6,8.1,10.0,12.3,15.1,18.6,22.9],[11.65,4.9,6.1,7.6,9.4,11.5,14.2,17.4,21.4],
[11.95,5.0,6.5,8.2,10.1,12.4,15.4,18.9,23.3],[12.15,4.6,5.8,7.3,9.0,11.0,13.6,16.7,20.5],[12.5,5.2,6.3,7.9,9.7,11.9,14.7,18.1,22.3],
[12.85,4.8,5.7,7.1,8.8,10.9,13.4,16.5,20.3],[13.2,5.6,6.9,8.5,10.5,12.9,15.9,19.6,24],[13.6,4.9,6.3,7.8,9.6,11.9,14.6,18,22.1],
[14.0,5.6,7.0,8.6,10.6,13.1,16.1,19.8,24.3],[14.35,4.9,6.1,7.6,9.3,11.5,14.1,17.4,21.3],[14.7,5.3,6.5,8.1,10.0,12.3,15.1,18.6,22.9],
[15.1,4.9,6.2,7.7,9.5,11.7,14.4,17.8,22],[15.6,5.5,6.9,8.5,10.5,12.9,15.9,19.6,24],[16.1,5.1,6.4,7.9,9.8,12.1,14.9,18.3,22.6],
[16.55,4.8,6.0,7.4,9.1,11.3,13.9,17.1,21.1],[17.0,5.3,6.6,8.1,10.0,12.4,15.3,18.8,23.2],[17.65,4.8,6.1,7.5,9.3,11.4,14.1,17.4,21.4],
[18.05,5.2,6.4,7.9,9.8,12.0,14.8,18.2,22.5],[18.55,5.0,6.2,7.7,9.5,11.7,14.4,17.8,21.9],[19.05,5.4,6.7,8.2,10.2,12.5,15.4,19.0,23.4],
[19.45,4.9,6.0,7.4,9.2,11.3,14.0,17.2,21.2],[19.9,5.2,6.4,7.9,9.8,12.1,14.9,18.4,22.7],[20.45,4.9,6.2,7.6,9.4,11.6,14.3,17.6,21.7],
[21.15,5.5,6.8,8.4,10.4,12.8,15.8,19.5,24],[21.55,4.8,6.0,7.5,9.2,11.4,14.0,17.3,21.4],[22.05,5.2,6.4,7.9,9.7,12.0,14.8,18.2,22.5],
[22.55,4.9,6.1,7.6,9.3,11.5,14.2,17.5,21.6],[23.1,5.2,6.4,8.0,9.8,12.1,14.9,18.4,22.7],[23.7,4.9,6.2,7.7,9.5,11.7,14.4,17.8,21.9],
[24.4,5.3,6.5,8.0,9.9,12.2,15.0,18.5,22.8],[25.0,4.9,6.1,7.5,9.3,11.4,14.1,17.4,21.4],[25.5,5.2,6.7,8.2,10.1,12.5,15.4,19.0,23.4],
[26.35,4.9,6.2,7.7,9.5,11.7,14.5,17.8,22],[26.85,5.2,6.4,7.9,9.8,12.1,14.9,18.4,22.7],[27.3,4.9,6.1,7.6,9.4,11.5,14.2,17.5,21.6]
];
const gpSolid = [[0.21,0.57],[0.3,0.73],[0.5,1.08],[0.7,1.4],[0.906,1.72],[1.3,2.14],[1.81,2.9],[2.26,3.9],[2.7,5.1],[3.2,5.8],[4.2,6.45],[5.73,7.65],[8.4,10],[11.8,11.8],[15,13],[19.6,14],[27.5,14.4]];
const gpDashed = [[2.48,5.4],[2.92,5.8],[3.2,5.9],[4.2,6.45],[5.73,7.5],[8.8,9.0],[11.8,10.3],[15,11.8],[19.6,13.2],[27.5,15.4]];
const gpSquare = [17.2, 16.2];

// ---------- Human ----------
const humanCols = [
[0.45,5.9,5.4],[0.47,8.0,5.0,6.3],[0.49,6.7,8.3],[0.5,7.0,4.9,5.6],[0.53,5.15,6.0,8.6,10.6],[0.55,7.2,5.5,9.3],
[0.57,4.8,6.3,11.6,8.0],[0.59,9.3,5.8,7.4],[0.61,10.5,5.0,6.8,3.9],[0.63,8.4,6.0,9.7],[0.65,9.3,5.7,7.3,11.5],
[0.66,3.7,6.6,8.8],[0.68,4.9,7.8,10.1],[0.7,6.5,9.0,12.0],[0.72,5.3,7.2,10.5],[0.74,8.3,6.1,11.5],
[0.77,2.73,4.8,9.4,7.0,12.5],[0.79,6.0,8.6,10.9],[0.82,5.0,7.6,10.0,12.8],[0.85,6.7,9.0,11.6,4.2],
[0.88,8.0,10.5,12.5,5.5],[0.91,7.2,9.6,11.8,13.5],[0.94,5.0,8.6,10.8,12.9],[0.97,4.5,9.4,11.4,14],[1.0,7.5,10.2,12.3,6.2,4.7],
[1.03,8.6,10.9,13.2,15.6,5.2],[1.05,3.2,4.4,9.8,12.0,14.3],[1.07,2.0,5.0,7.6,11.2,16.5],[1.09,4.2,8.8,12.6,14.9,10.4],
[1.12,6.4,9.6,11.8,13.8,17.2],[1.15,8.2,10.6,12.9,15.5,19],[1.18,7.0,9.2,11.5,14.3,16.8],[1.21,8.6,10.0,12.4,15.0,18.3],
[1.24,1.9,7.6,11.0,13.3,16.3,21],[1.27,3.9,9.0,11.9,14.4,17.5],[1.3,3.7,8.0,10.4,12.8,15.4,19.5],[1.34,9.4,11.5,13.9,16.9,22],
[1.38,8.4,10.8,13.0,15.8,18.8],[1.42,7.6,9.9,12.2,14.7,17.6,21],[1.46,8.9,11.3,13.6,16.4,19.8],[1.5,7.3,10.3,12.6,15.2,18.2],
[1.55,8.4,11.0,13.4,16.1,20.5],[1.6,2.8,9.4,12.0,14.5,17.4],[1.63,2.82,7.8,10.6,13.1,15.8,19.2],[1.68,8.9,11.6,14.0,16.9,21.5],
[1.72,1.65,3.3,9.9,12.5,15.1,18.2],[1.75,24.9,1.62,8.0,11.1,13.6,16.4],[1.79,3.2,9.4,12.1,14.7,17.8,22],[1.84,10.3,13.0,15.7,19.3],
[1.88,8.6,11.4,14.1,17.0,21],[1.91,4.8,9.6,12.6,15.3,18.6],[1.95,7.7,10.8,13.6,16.5,20],[1.99,9.0,11.9,14.6,17.7,23],
[2.03,7.3,10.2,13.0,16.0,19.5],[2.08,9.0,11.6,14.4,17.6,22],[2.13,8.1,10.8,13.6,16.8,20.6,26],[2.18,9.6,12.3,15.2,18.7,23],
[2.23,7.6,11.0,13.9,17.1,21],[2.28,8.8,12.7,15.8,19.4,24],[2.33,10.1,13.1,16.3,20.1,27],[2.4,43.7,6.1,9.2,12.0,14.8,18.3,22.5],
[2.44,8.3,11.3,14.2,17.5,21.5],[2.47,6.1,10.4,13.2,16.4,20.3,25],[2.52,9.5,12.4,15.6,19.2,23.5],[2.58,8.5,11.6,14.6,18.0,22.1,28],
[2.64,10.6,13.6,16.9,20.9,25],[2.71,1.77,9.2,12.6,15.9,19.6,24],[2.76,38.5,7.9,11.4,14.8,18.4,22.8],[2.82,10.2,13.6,17.0,21.0,26],
[2.88,8.9,12.3,15.7,19.5,24.5],[2.95,10.8,14.4,18.1,22.4,30],[3.02,9.4,13.0,16.6,20.6,26],[3.1,4.9,11.7,15.3,19.1,23.8],
[3.17,8.3,10.5,14.0,17.7,22.0,28],[3.24,9.6,12.8,16.4,20.4,25.5],[3.3,1.18,11.4,15.1,18.9,23.5,33],[3.38,5.1,1.1,10.0,13.7,17.5,21.8,27],
[3.44,6.7,3.0,8.7,12.2,16.1,20.3,25],[3.47,1.14,14.6,18.7,23.4,30],[3.55,9.6,13.3,17.3,21.6,27],[3.63,7.2,11.8,15.8,20.0,25],
[3.7,10.4,14.3,18.5,23.2,29,36],[3.77,5.2,1.37,12.8,16.9,21.4,26.8],[3.84,1.35,9.2,13.9,18.0,22.8,29],[3.92,11.0,15.2,19.6,24.6,33],
[4.0,8.4,12.3,16.4,21.0,26.4],[4.07,6.7,10.1,13.4,17.7,22.6,28.5],[4.15,11.2,14.8,19.3,24.4,31],[4.24,9.0,12.5,16.2,20.8,26.3,36],
[4.36,5.0,3.7,10.4,13.8,17.9,22.8],[4.44,11.6,15.2,19.6,24.8,31],[4.53,9.4,12.8,16.7,21.4,27],[4.6,7.4,10.8,14.3,18.5,23.6,29.5,39],
[4.67,12.0,15.8,20.3,25.8],[4.76,9.7,13.3,17.3,22.2,28.3,35],[4.85,11.0,14.7,19.0,24.3,31],[4.95,8.8,12.2,16.1,20.8,26.6],
[5.05,10.1,13.6,17.7,22.9,29.5],[5.15,9.0,12.4,16.3,21.0,27.0,36],[5.25,11.4,15.1,19.6,25.2,32],[5.35,9.9,13.9,18.2,23.5,30.5],
[5.45,11.0,15.0,19.8,25.9,34],[5.55,12.3,16.4,21.6,28.2],[5.7,6.1,10.5,14.4,19.0,24.8,32],[5.8,6.2,12.0,16.0,21.0,27.5,37],
[5.9,2.2,9.6,13.6,18.2,23.8,30.8],[6.0,11.2,15.4,20.4,26.6,34],[6.15,12.6,17.1,22.5,29.4,40],[6.3,10.2,14.5,19.4,25.5,33],
[6.45,13.1,17.9,23.6,30.9],[6.6,11.8,16.3,21.7,28.5,37],[6.75,14.2,19.3,25.4,33.5,43],[6.9,12.4,17.2,22.9,30.1],
[7.05,15.1,20.5,27.1,35.5],[7.2,13.5,18.6,24.8,32.6,45],[7.4,16.0,21.7,28.8],[7.6,14.4,19.8,26.3,34.8],[7.8,17.5,23.3,31.0],
[7.9,4.66,2.47,15.6,21.0],[8.1,18.6,24.7,33.0],[8.3,16.2,22.0,29.0],[8.5,19.6,26.0],[8.8,17.0,23.2,30.5],[9.1,20.7,27.3],
[9.4,18.8,24.4,32],[9.8,22.0,29.0],[10.2,20.4,26.3],[10.7,22.4,28.5],[10.9,19.0,25.0]
];
// denser core of the human cloud (1–8 kHz)
const humanCore = [
[1.04,9.2,11.5,14],[1.1,10.0,12.2,14.8],[1.14,9.0,11.1,13.5,16],[1.2,9.6,11.8,14.2,17],[1.25,10.3,12.5,15.2],
[1.29,9.1,11.2,13.6,16.2],[1.33,10.0,12.2,14.8,17.8],[1.4,9.3,11.5,14.0,16.8],[1.44,10.6,12.9,15.6,18.6],[1.49,9.6,11.8,14.4,17.3],
[1.53,10.3,12.6,15.3,18.5],[1.58,9.0,11.2,13.7,16.6,19.8],[1.65,10.1,12.5,15.1,18.2],[1.7,9.4,11.6,14.2,17.2,20.5],[1.77,10.5,12.9,15.6,18.8],
[1.82,9.2,11.9,14.4,17.4,21],[1.86,10.8,13.3,16.1,19.5],[1.93,9.8,12.1,14.8,17.9,21.5],[1.97,11.2,13.8,16.7,20.2],[2.01,10.0,12.4,15.2,18.4,22],
[2.06,10.6,13.1,16.0,19.4],[2.1,9.6,11.9,14.7,17.9,21.7],[2.16,10.9,13.5,16.5,20.1,24],[2.21,10.0,12.4,15.3,18.6,22.5],[2.26,11.3,14.0,17.1,20.8],
[2.31,10.3,12.8,15.7,19.2,23.2],[2.36,11.6,14.4,17.6,21.4],[2.42,10.6,13.2,16.2,19.8,24],[2.49,11.9,14.8,18.1,22],[2.55,10.8,13.4,16.5,20.2,24.5],
[2.61,12.1,15.0,18.4,22.4],[2.67,11.0,13.7,16.8,20.6,25.5],[2.74,12.3,15.3,18.8,23],[2.79,11.1,13.8,17.0,20.8,25.5],[2.85,12.4,15.5,19.0,23.2],
[2.92,11.3,14.1,17.4,21.3,26],[2.99,12.6,15.7,19.3,23.6],[3.06,11.5,14.3,17.6,21.6,26.5],[3.14,12.8,15.9,19.6,24],[3.2,11.7,14.6,18.0,22.0,27],
[3.27,13.0,16.2,19.9,24.4],[3.34,11.9,14.8,18.2,22.3,27.5],[3.41,13.2,16.4,20.2,24.8],[3.5,12.0,15.0,18.5,22.7,28],[3.59,13.4,16.7,20.6,25.2],
[3.66,12.2,15.2,18.8,23.1,28.5],[3.74,13.6,16.9,20.8,25.6],[3.81,12.4,15.4,19.0,23.4,29],[3.88,13.8,17.2,21.2,26],[3.96,12.6,15.7,19.4,23.8,29.5],
[4.04,14.0,17.4,21.5,26.4],[4.11,12.8,15.9,19.6,24.1,30],[4.2,14.2,17.7,21.8,26.8],[4.3,13.0,16.2,20.0,24.6,30.5],[4.4,14.4,18.0,22.2,27.3],
[4.49,13.2,16.4,20.3,25.0,31],[4.57,14.6,18.2,22.5,27.7],[4.64,13.4,16.7,20.6,25.4],[4.72,14.8,18.5,22.9,28.2],[4.8,13.6,16.9,20.9,25.8,32],
[4.9,15.0,18.7,23.2,28.6],[5.0,13.8,17.2,21.3,26.3,32.5],[5.1,15.2,19.0,23.5,29.1],[5.2,14.0,17.5,21.6,26.7,33],[5.3,15.4,19.3,23.9,29.6],
[5.4,14.2,17.7,21.9,27.2,33.5],[5.5,15.6,19.5,24.2,30],[5.62,14.4,18.0,22.3,27.6,34],[5.75,15.8,19.8,24.5,30.4],[5.85,14.6,18.2,22.6,28.0],
[5.95,16.0,20.0,24.8,30.8],[6.08,14.8,18.5,23.0,28.5,35],[6.22,16.2,20.3,25.2,31.3],[6.37,15.0,18.8,23.3,28.9,36],[6.52,16.5,20.6,25.6,31.8],
[6.67,15.3,19.1,23.7,29.4],[6.82,16.7,20.9,26.0,32.3],[6.97,15.5,19.4,24.1,29.9,37],[7.12,17.0,21.2,26.4,32.8],[7.3,15.8,19.7,24.5,30.4],
[7.5,17.2,21.6,26.8,33.3],[7.7,16.0,20.0,24.9,30.9],[7.85,18.0,22.5,28.0],[8.0,16.5,20.6,25.7,32],[8.2,18.2,22.8,28.4],[8.4,17.0,21.2,26.5,33]
];
const humanSolid = [[0.45,5.5],[0.62,7.6],[0.8,9.4],[0.96,11.1],[1.2,12.5],[1.5,13.2],[2.0,13.8],[2.3,14.8],[3.0,16.5],[3.6,17.8],[4.5,18.5],[5.2,19.2],[5.97,20.5],[6.9,24],[7.7,25.8],[9.2,26],[10.9,27.2]];
const humanDashed = [[5.2,19.0],[6.0,20.2],[6.9,21.8],[7.7,23.2],[9.2,24.2],[10.7,25.8],[12.0,27.0]];
const humanErrF  = [1.05, 1.56, 2.5, 3.52, 4.5, 5.5, 6.7, 8.1, 9.3, 10.7];
const humanErrN  = [12.0, 14.7, 15.3, 18.9, 19.7, 23.9, 27.2, 31.8, 31.8, 41.3];
const humanErrLo = [10.9, 12.2, 13.3, 17.0, 15.7, 19.0, 21.7, 23.3, 24.8, 32.5];
const humanErrHi = [13.2, 17.6, 17.0, 20.6, 22.6, 28.6, 33.6, 41.3, 39.8, 51.0];

// ---------- helpers ----------
const expand = cols => cols.flatMap(([f, ...ns]) => ns.map(n => ({f, n})));
const pairs = arr => arr.map(([f, n]) => ({f, n}));
const FONT = '"Liberation Sans", Arial, Helvetica, sans-serif';
const STRETCH = 1.2;

function stretchText(svg) {
  svg.querySelectorAll("text").forEach(t => {
    const x0 = parseFloat(t.getAttribute("x")) || 0;
    const tr = t.getAttribute("transform") || "";
    t.setAttribute("transform", `${tr} translate(${x0},0) scale(${STRETCH},1) translate(${-x0},0)`);
  });
}

function panel(o) {
  const [y0] = o.yDomain;
  const marks = [
    Plot.dot(o.points, {x: "f", y: "n", r: 4, fill: "#999999"}),
    Plot.line(o.solid, {x: "f", y: "n", stroke: "black", strokeWidth: o.lw})
  ];
  if (o.dashed) marks.push(Plot.line(o.dashed, {x: "f", y: "n", stroke: "black", strokeWidth: o.lw, strokeDasharray: "10,5"}));
  if (o.square) marks.push(Plot.dot([o.square], {x: "f", y: "n", symbol: "square", r: 8.5, fill: "black"}));
  if (o.errs) {
    const capK = 1.045;
    marks.push(
      Plot.ruleX(o.errs, {x: "f", y1: "lo", y2: "hi", stroke: "#555", strokeWidth: 2}),
      Plot.ruleY(o.errs, {y: "hi", x1: d => d.f / capK, x2: d => d.f * capK, stroke: "#555", strokeWidth: 2}),
      Plot.ruleY(o.errs, {y: "lo", x1: d => d.f / capK, x2: d => d.f * capK, stroke: "#555", strokeWidth: 2}),
      Plot.dot(o.errs, {x: "f", y: "n", r: 4.8, fill: "#5c5c5c"})
    );
  }
  marks.push(
    Plot.ruleX([o.yDomain], {x: () => 0.2, y1: d => d[0], y2: d => d[1], dx: -8, stroke: "black", strokeWidth: 2}),
    Plot.ruleY([y0], {x1: () => 0.2, x2: () => 50, dy: 11, stroke: "black", strokeWidth: 2}),
    Plot.axisY(o.yMinor, {anchor: "left", tickSize: 7, tickFormat: () => "", strokeWidth: 2, label: null}),
    Plot.axisY(o.yMajor, {anchor: "left", tickSize: 12, tickPadding: 6, fontSize: 22, tickFormat: d => String(d), strokeWidth: 2, label: null}),
    Plot.axisX(xMinorTicks.concat(xSmallTicks), {anchor: "bottom", tickSize: 6, tickFormat: () => "", strokeWidth: 2, label: null}),
    Plot.axisX(xMajorTicks, {anchor: "bottom", tickSize: 14, tickFormat: () => "", strokeWidth: 2, label: null}),
    Plot.text([o.title], {frameAnchor: "top-left", dx: 20, dy: 36, lineAnchor: "bottom", textAnchor: "start", fontSize: 25})
  );
  if (o.xLabels) marks.push(
    Plot.text(xSmallTicks, {x: d => d, text: d => String(d), frameAnchor: "bottom", dy: 14, lineAnchor: "top", fontSize: 15.5}),
    Plot.text(xMajorTicks, {x: d => d, text: d => String(d), frameAnchor: "bottom", dy: 23, lineAnchor: "top", fontSize: 21}),
    Plot.text(["Frequency [kHz]"], {frameAnchor: "bottom", dx: 4, dy: 79, lineAnchor: "bottom", fontSize: 26})
  );
  const svg = Plot.plot({
    width: 650, height: o.height,
    marginTop: o.marginTop, marginLeft: 120, marginRight: 18, marginBottom: o.marginBottom,
    style: {fontFamily: FONT, background: "transparent", overflow: "visible", color: "black"},
    x: {type: "log", domain: [0.2, 50], insetLeft: 8},
    y: {type: "log", domain: o.yDomain, insetBottom: 11},
    marks
  });
  stretchText(svg);
  svg.style.top = o.top + "px";
  document.getElementById("wrap").appendChild(svg);
}

panel({title: "Cat", points: expand(catCols.concat(catCore)), solid: pairs(catSolid), dashed: pairs(catDashed),
  square: {f: catSquare[0], n: catSquare[1]}, yDomain: [0.4, 40], yMinor: yMinorCatGp, yMajor: yMajorCatGp,
  top: 0, height: 272, marginTop: 12, marginBottom: 19.7, lw: 2.5, xLabels: false});
panel({title: "Guinea Pig", points: expand(gpCols.concat(gpCore)), solid: pairs(gpSolid), dashed: pairs(gpDashed),
  square: {f: gpSquare[0], n: gpSquare[1]}, yDomain: [0.4, 40], yMinor: yMinorCatGp, yMajor: yMajorCatGp,
  top: 272, height: 272, marginTop: 12, marginBottom: 19.7, lw: 2.5, xLabels: false});
panel({title: "Human", points: expand(humanCols.concat(humanCore)), solid: pairs(humanSolid), dashed: pairs(humanDashed),
  errs: humanErrF.map((f, i) => ({f, n: humanErrN[i], lo: humanErrLo[i], hi: humanErrHi[i]})),
  yDomain: [1, 100], yMinor: yMinorHuman, yMajor: yMajorHuman,
  top: 544, height: 342, marginTop: 11.7, marginBottom: 90, lw: 3, xLabels: true});
</script></body></html>
